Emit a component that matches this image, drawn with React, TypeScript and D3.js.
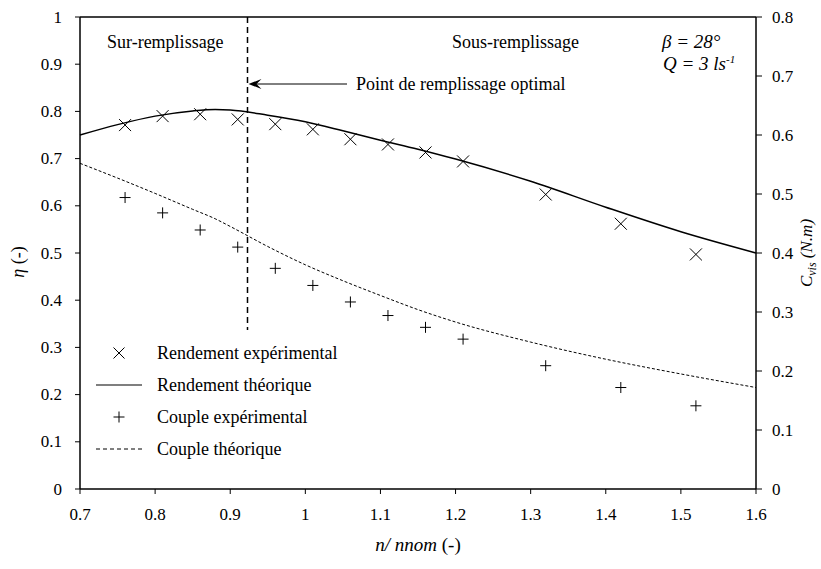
import React from "react";
import * as d3 from "d3";

// rapport de vitesse n/nnom
const nExp = [0.76, 0.81, 0.86, 0.91, 0.96, 1.01, 1.06, 1.11, 1.16, 1.21, 1.32, 1.42, 1.52];
// rendement experimental (axe gauche)
const etaExp = [0.771, 0.79, 0.794, 0.783, 0.773, 0.762, 0.741, 0.73, 0.713, 0.694, 0.624, 0.562, 0.497];
// couple experimental (axe droit, N.m)
const coupleExp = [0.494, 0.468, 0.439, 0.41, 0.374, 0.345, 0.317, 0.294, 0.274, 0.254, 0.209, 0.172, 0.141];

// courbes theoriques
const nTheo = [0.7, 0.75, 0.8, 0.85, 0.88, 0.9, 0.95, 1.0, 1.05, 1.1, 1.15, 1.2, 1.3, 1.4, 1.5, 1.6];
const etaTheo = [0.75, 0.772, 0.79, 0.801, 0.804, 0.803, 0.792, 0.778, 0.759, 0.739, 0.72, 0.699, 0.652, 0.597, 0.545, 0.5];
const coupleTheo = [0.552, 0.527, 0.501, 0.474, 0.458, 0.445, 0.411, 0.38, 0.353, 0.328, 0.304, 0.283, 0.249, 0.22, 0.195, 0.172];

const xTicks = [0.7, 0.8, 0.9, 1, 1.1, 1.2, 1.3, 1.4, 1.5, 1.6];
const yTicks = [0, 0.1, 0.2, 0.3, 0.4, 0.5, 0.6, 0.7, 0.8, 0.9, 1];
const y2Ticks = [0, 0.1, 0.2, 0.3, 0.4, 0.5, 0.6, 0.7, 0.8];
const nOptimal = 0.923;

const legendItems = [
  { label: "Rendement expérimental", kind: "x" },
  { label: "Rendement théorique", kind: "solid" },
  { label: "Couple expérimental", kind: "plus" },
  { label: "Couple théorique", kind: "dash" },
];

const font = '"Liberation Serif", "DejaVu Serif", serif';

export default function App() {
  const W = 821;
  const H = 569;
  const margin = { top: 17, right: 65, bottom: 80, left: 80 };
  const x = d3.scaleLinear().domain([0.7, 1.6]).range([margin.left, W - margin.right]);
  const y = d3.scaleLinear().domain([0, 1]).range([H - margin.bottom, margin.top]);
  const y2 = d3.scaleLinear().domain([0, 0.8]).range([H - margin.bottom, margin.top]);
  const x0 = x.range()[0], x1 = x.range()[1];
  const yb = y.range()[0], yt = y.range()[1];

  const etaLine = d3
    .line<number>()
    .x((d, i) => x(nTheo[i]))
    .y((d) => y(d))
    .curve(d3.curveMonotoneX);
  const coupleLine = d3
    .line<number>()
    .x((d, i) => x(nTheo[i]))
    .y((d) => y2(d))
    .curve(d3.curveMonotoneX);

  const xo = x(nOptimal);
  const fsTick = 17;
  const fs = 18;

  const xMark = (cx, cy, r = 6) => (
    <path d={`M${cx - r},${cy - r}L${cx + r},${cy + r}M${cx - r},${cy + r}L${cx + r},${cy - r}`} stroke="#000" strokeWidth={1} fill="none" />
  );
  const plusMark = (cx, cy, r = 5.5) => (
    <path d={`M${cx - r},${cy}L${cx + r},${cy}M${cx},${cy - r}L${cx},${cy + r}`} stroke="#000" strokeWidth={1} fill="none" />
  );

  const tip = xo + 1;
  const ay = 84;

  return (
    <svg width={W} height={H} style={{ position: "absolute", left: 0, top: 0, background: "#fff", fontFamily: font }}>
      {/* cadre */}
      <line x1={x0} x2={x1} y1={yt} y2={yt} stroke="#000" strokeWidth={1.5} />
      <line x1={x0} x2={x1} y1={yb} y2={yb} stroke="#000" strokeWidth={1.5} />
      <line x1={x0} x2={x0} y1={yt} y2={yb} stroke="#000" strokeWidth={1.5} />
      <line x1={x1} x2={x1} y1={yt} y2={yb} stroke="#000" strokeWidth={1.5} />

      {/* axe x */}
      {xTicks.map((t) => (
        <g key={"x" + t}>
          <line x1={x(t)} x2={x(t)} y1={yb} y2={yb + 5} stroke="#000" strokeWidth={1} />
          <text x={x(t)} y={yb + 31} fontSize={fsTick} textAnchor="middle">{t}</text>
        </g>
      ))}
      {/* axe y gauche */}
      {yTicks.map((t) => (
        <g key={"y" + t}>
          <line x1={x0 - 5} x2={x0} y1={y(t)} y2={y(t)} stroke="#000" strokeWidth={1} />
          <text x={62} y={y(t)} dy="0.33em" fontSize={fsTick} textAnchor="end">{t}</text>
        </g>
      ))}
      {/* axe y droit */}
      {y2Ticks.map((t) => (
        <g key={"y2" + t}>
          <line x1={x1} x2={x1 + 6} y1={y2(t)} y2={y2(t)} stroke="#000" strokeWidth={1} />
          <text x={772} y={y2(t)} dy="0.33em" fontSize={fsTick} textAnchor="start">{t}</text>
        </g>
      ))}

      {/* titres des axes */}
      <text x={418} y={551} fontSize={19} textAnchor="middle">
        <tspan fontStyle="italic">n/ nnom</tspan> (-)
      </text>
      <text transform={`translate(24,${262}) rotate(-90)`} fontSize={fs} textAnchor="middle">
        <tspan fontStyle="italic">η</tspan> (-)
      </text>
      <text transform={`translate(812,${253}) rotate(-90)`} fontSize={17} textAnchor="middle" fontStyle="italic">
        C<tspan fontSize={12} dy={4}>vis</tspan><tspan dy={-4}> (N.m)</tspan>
      </text>

      {/* courbes theoriques */}
      <path d={etaLine(etaTheo)} fill="none" stroke="#000" strokeWidth={1.5} />
      <path d={coupleLine(coupleTheo)} fill="none" stroke="#000" strokeWidth={1} strokeDasharray="3,2" />

      {/* points experimentaux */}
      {nExp.map((n, i) => (
        <g key={"e" + i}>{xMark(x(n), y(etaExp[i]))}</g>
      ))}
      {nExp.map((n, i) => (
        <g key={"c" + i}>{plusMark(x(n), y2(coupleExp[i]))}</g>
      ))}

      {/* point de remplissage optimal */}
      <line x1={xo} x2={xo} y1={yt} y2={330} stroke="#000" strokeWidth={1.5} strokeDasharray="6,4" />
      <line x1={347} x2={tip + 6} y1={ay} y2={ay} stroke="#000" strokeWidth={1} />
      <path d={`M${tip},${ay}L${tip + 13},${ay - 5}L${tip + 8},${ay}L${tip + 13},${ay + 5}Z`} fill="#000" />
      <text x={356} y={ay} dy="0.33em" fontSize={fs}>Point de remplissage optimal</text>
      <text x={107} y={48} fontSize={fs}>Sur-remplissage</text>
      <text x={452} y={48} fontSize={fs}>Sous-remplissage</text>

      <text x={662} y={48} fontSize={19} fontStyle="italic">β = 28°</text>
      <text x={663} y={70} fontSize={19} fontStyle="italic">
        Q = 3 ls<tspan fontSize={11} dy={-7}>-1</tspan>
      </text>

      {/* legende */}
      {legendItems.map((it, i) => {
        const ly = 353 + i * 32;
        return (
          <g key={it.label}>
            {it.kind === "x" && xMark(119, ly, 5.5)}
            {it.kind === "plus" && plusMark(119, ly, 5.5)}
            {it.kind === "solid" && <line x1={96} x2={142} y1={ly} y2={ly} stroke="#000" strokeWidth={1.2} />}
            {it.kind === "dash" && <line x1={96} x2={142} y1={ly} y2={ly} stroke="#000" strokeWidth={1} strokeDasharray="4,3" />}
            <text x={157} y={ly} dy="0.33em" fontSize={fs}>{it.label}</text>
          </g>
        );
      })}
    </svg>
  );
}
